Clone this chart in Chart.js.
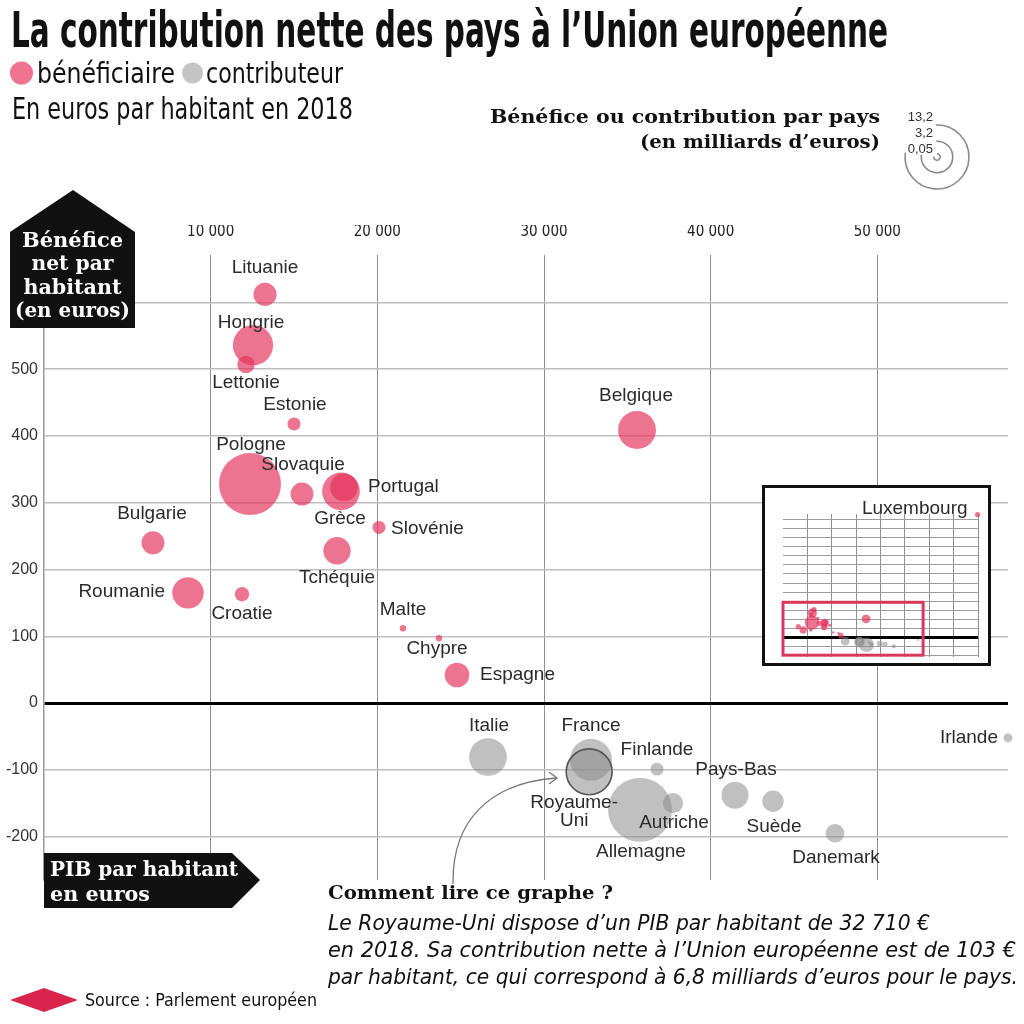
<!DOCTYPE html>
<html lang="fr">
<head>
<meta charset="utf-8">
<title>La contribution nette des pays à l’Union européenne</title>
<script src="https://cdn.jsdelivr.net/npm/chart.js@4.4.1/dist/chart.umd.min.js"></script>
<style>
  html, body { margin:0; padding:0; background:#fff; }
  #page { position:relative; width:1024px; height:1024px; overflow:hidden; background:#fff; }
  #main { position:absolute; left:0; top:0; }
  #insetBox { position:absolute; left:762px; top:485px; width:229px; height:181px; box-sizing:border-box; border:3px solid #111; background:#fff; }
  #inset { position:absolute; left:0; top:0; }
  #overlay { position:absolute; left:0; top:0; pointer-events:none; }
  .narrow { font-family:'Liberation Sans Narrow','DejaVu Sans Condensed','Roboto Condensed','Liberation Sans',sans-serif; }
  .serif { font-family:'DejaVu Serif','Liberation Serif',serif; }
</style>
</head>
<body>
<div id="page">
  <canvas id="main" width="1024" height="1024"></canvas>
  <div id="insetBox"><canvas id="inset" width="223" height="175"></canvas></div>
  <svg id="overlay" width="1024" height="1024" xmlns="http://www.w3.org/2000/svg">
    <!-- Title block -->
    <g class="narrow" fill="#111">
      <text x="11" y="47" font-size="50" font-weight="bold" textLength="877" lengthAdjust="spacingAndGlyphs">La contribution nette des pays à l’Union européenne</text>
      <circle cx="21.5" cy="73" r="11.5" fill="#ee7490"/>
      <text x="37" y="83" font-size="29" textLength="138" lengthAdjust="spacingAndGlyphs">bénéficiaire</text>
      <circle cx="192.5" cy="73" r="10.5" fill="#c4c4c4"/>
      <text x="206" y="83" font-size="29" textLength="137" lengthAdjust="spacingAndGlyphs">contributeur</text>
      <text x="12" y="119" font-size="30" textLength="341" lengthAdjust="spacingAndGlyphs">En euros par habitant en 2018</text>
    </g>
    <!-- Size legend title -->
    <g class="serif" fill="#111" font-weight="bold" text-anchor="end">
      <text x="880" y="123" font-size="19" textLength="390" lengthAdjust="spacingAndGlyphs">Bénéfice ou contribution par pays</text>
      <text x="880" y="148" font-size="19" textLength="240" lengthAdjust="spacingAndGlyphs">(en milliards d’euros)</text>
    </g>
    <g id="sizeLegend"></g>
    <!-- Y axis title box (house shape) -->
    <polygon points="10,328 10,232 73,190 135,232 135,328" fill="#111"/>
    <g class="serif" fill="#fff" font-weight="bold" text-anchor="middle" font-size="21">
      <text x="72.5" y="247" textLength="101" lengthAdjust="spacingAndGlyphs">Bénéfice</text>
      <text x="72.5" y="270" textLength="82" lengthAdjust="spacingAndGlyphs">net par</text>
      <text x="72.5" y="294" textLength="98" lengthAdjust="spacingAndGlyphs">habitant</text>
      <text x="72.5" y="317" textLength="115" lengthAdjust="spacingAndGlyphs">(en euros)</text>
    </g>
    <!-- X axis title box (arrow shape) -->
    <polygon points="44,853 232,853 260,880 232,908 44,908" fill="#111"/>
    <g class="serif" fill="#fff" font-weight="bold" font-size="21">
      <text x="50" y="876" textLength="188" lengthAdjust="spacingAndGlyphs">PIB par habitant</text>
      <text x="50" y="901" textLength="100" lengthAdjust="spacingAndGlyphs">en euros</text>
    </g>
    <!-- Reading guide -->
    <path d="M 453 884 C 452 820 490 783 556 778" fill="none" stroke="#777" stroke-width="1.3"/>
    <path d="M 549 772 L 557 778 L 549 784" fill="none" stroke="#777" stroke-width="1.3"/>
    <text class="serif" x="328" y="899" font-size="19" font-weight="bold" fill="#111" textLength="285" lengthAdjust="spacingAndGlyphs">Comment lire ce graphe ?</text>
    <g class="narrow" font-style="italic" font-size="22" fill="#111">
      <text x="328" y="930" textLength="602" lengthAdjust="spacingAndGlyphs">Le Royaume-Uni dispose d’un PIB par habitant de 32 710 €</text>
      <text x="328" y="957" textLength="688" lengthAdjust="spacingAndGlyphs">en 2018. Sa contribution nette à l’Union européenne est de 103 €</text>
      <text x="328" y="984" textLength="690" lengthAdjust="spacingAndGlyphs">par habitant, ce qui correspond à 6,8 milliards d’euros pour le pays.</text>
    </g>
    <!-- Source -->
    <polygon points="10,1000 44,988 78,1000 44,1012" fill="#d8244c"/>
    <text class="narrow" x="85" y="1006" font-size="17" fill="#111" textLength="232" lengthAdjust="spacingAndGlyphs">Source : Parlement européen</text>
  </svg>
</div>
<script>
// ---------------- DATA ----------------
const BENEF_NAMES = ['Lituanie','Hongrie','Lettonie','Estonie','Pologne','Slovaquie','Portugal','Grèce','Slovénie','Bulgarie','Roumanie','Croatie','Tchéquie','Malte','Chypre','Espagne','Belgique','Luxembourg'];
const BENEF_PIB   = [13260,12540,12120,15000,12360,15480,18000,17820,20100,6540,8640,11880,17580,21540,23700,24780,35580,83300];
const BENEF_NET   = [612,536,507,418,328,313,323,317,263,240,165,163,228,112,97,42,409,2707];
const BENEF_MDS   = [1.72,5.24,0.98,0.55,12.4,1.70,2.5,4.6,0.54,1.69,3.2,0.67,2.42,0.05,0.08,1.96,4.66,1.63];

const CONTRIB_NAMES = ['Italie','France','Royaume-Uni','Finlande','Allemagne','Autriche','Pays-Bas','Suède','Danemark','Irlande'];
const CONTRIB_PIB   = [26640,32820,32710,36780,35760,37740,41460,43740,47460,57840];
const CONTRIB_NET   = [-81,-85,-103,-99,-160,-150,-138,-147,-195,-52];
const CONTRIB_MDS   = [4.6,5.7,6.8,0.54,13.2,1.32,2.37,1.48,1.13,0.25];

const X_TICKS = [10000,20000,30000,40000,50000];
const Y_TICKS = [-200,-100,0,100,200,300,400,500,600];
const Y_TICK_LABELS_SHOWN = [-200,-100,0,100,200,300,400,500];
const SIZE_LEGEND = [13.2,3.2,0.05];
const SIZE_LEGEND_LABELS = ['13,2','3,2','0,05'];

// ---------------- STYLE / LAYOUT ----------------
const PINK = 'rgba(228,50,92,0.68)';
const GREY = 'rgba(140,140,140,0.55)';
const X_MIN = 0, X_MAX = 57840, Y_MIN = -265, Y_MAX = 671;
const INSET_X_MAX = 83500, INSET_Y_MIN = -430, INSET_Y_MAX = 2720;
const INSET_FRAME = {x0:0, x1:60000, y0:-390, y1:775};
const LABEL_FONT = '19px "Liberation Sans", Arial, sans-serif';
const rOf = v => Math.max(3.2, 8.8 * Math.sqrt(v));

const LABELS = {
  'Lituanie':{dx:0,dy:-27}, 'Hongrie':{dx:-2,dy:-22}, 'Lettonie':{dx:0,dy:18}, 'Estonie':{dx:1,dy:-19},
  'Pologne':{dx:1,dy:-39}, 'Slovaquie':{dx:1,dy:-29}, 'Portugal':{dx:24,dy:-1,align:'left'},
  'Grèce':{dx:-1,dy:27}, 'Slovénie':{dx:12,dy:1,align:'left'}, 'Bulgarie':{dx:-1,dy:-29},
  'Roumanie':{dx:-23,dy:-1,align:'right'}, 'Croatie':{dx:0,dy:20}, 'Tchéquie':{dx:0,dy:27},
  'Malte':{dx:0,dy:-18}, 'Chypre':{dx:-2,dy:10}, 'Espagne':{dx:23,dy:0,align:'left'},
  'Belgique':{dx:-1,dy:-34}, 'Italie':{dx:1,dy:-31}, 'France':{dx:0,dy:-34},
  'Royaume-Uni':{dx:-15,dy:31,lines:['Royaume-','Uni'],lh:18}, 'Finlande':{dx:0,dy:-19},
  'Allemagne':{dx:1,dy:42}, 'Autriche':{dx:1,dy:20}, 'Pays-Bas':{dx:1,dy:-25},
  'Suède':{dx:1,dy:26}, 'Danemark':{dx:1,dy:25}, 'Irlande':{dx:-10,dy:0,align:'right'}
};
const INSET_LABELS = { 'Luxembourg':{dx:-10,dy:-6,align:'right'} };

function buildPoints(names, pib, net, mds) {
  return names.map((n,i) => ({x:pib[i], y:net[i], r:rOf(mds[i]), name:n}));
}
const benefAll = buildPoints(BENEF_NAMES, BENEF_PIB, BENEF_NET, BENEF_MDS);
const contribAll = buildPoints(CONTRIB_NAMES, CONTRIB_PIB, CONTRIB_NET, CONTRIB_MDS);
const inMain = p => p.x <= X_MAX;

function labelPlugin(id, map) {
  return {
    id,
    afterDatasetsDraw(chart) {
      const ctx = chart.ctx;
      ctx.save();
      ctx.font = LABEL_FONT;
      ctx.fillStyle = '#2b2b2b';
      ctx.textBaseline = 'middle';
      chart.data.datasets.forEach((ds, di) => {
        const meta = chart.getDatasetMeta(di);
        meta.data.forEach((el, i) => {
          const name = ds.data[i].name;
          const p = map[name];
          if (!p) return;
          ctx.textAlign = p.align || 'center';
          const lines = p.lines || [name];
          lines.forEach((t, k) => ctx.fillText(t, el.x + p.dx, el.y + p.dy + k * (p.lh || 0)));
        });
      });
      ctx.restore();
    }
  };
}

const fmt = v => String(v).replace(/\B(?=(\d{3})+(?!\d))/g, ' ');

// ---------------- MAIN CHART ----------------
new Chart(document.getElementById('main'), {
  type: 'bubble',
  data: {
    datasets: [
      { label:'bénéficiaire', data: benefAll.filter(inMain), backgroundColor: PINK, borderWidth: 0, clip: false },
      { label:'contributeur', data: contribAll.filter(inMain), backgroundColor: GREY, clip: false,
        borderColor: c => (c.raw && c.raw.name === 'Royaume-Uni') ? '#555' : 'rgba(0,0,0,0)',
        borderWidth: c => (c.raw && c.raw.name === 'Royaume-Uni') ? 1.6 : 0 }
    ]
  },
  options: {
    responsive: false, animation: false, events: [],
    layout: { autoPadding: false, padding: { left: 0, right: 16, top: 225, bottom: 144 } },
    plugins: { legend: { display: false }, tooltip: { enabled: false } },
    scales: {
      x: {
        type: 'linear', position: 'top', min: X_MIN, max: X_MAX,
        afterFit: s => { s.height = 30; },
        afterBuildTicks: s => { s.ticks = X_TICKS.map(v => ({ value: v })); },
        ticks: { callback: v => fmt(v), color: '#222', padding: 14, maxRotation: 0,
                 font: { family: "'Liberation Sans Narrow','DejaVu Sans Condensed','Liberation Sans',sans-serif", size: 15 } },
        grid: { color: '#8f8f8f', lineWidth: 1, drawTicks: false },
        border: { display: false }
      },
      y: {
        type: 'linear', min: Y_MIN, max: Y_MAX,
        afterFit: s => { s.width = 44; },
        afterBuildTicks: s => { s.ticks = Y_TICKS.map(v => ({ value: v })); },
        ticks: { callback: v => Y_TICK_LABELS_SHOWN.includes(v) ? String(v) : '', color: '#333', padding: 6,
                 font: { family: "'Liberation Sans',Arial,sans-serif", size: 16 } },
        grid: { color: c => c.tick && c.tick.value === 0 ? '#000' : '#bdbdbd',
                lineWidth: c => c.tick && c.tick.value === 0 ? 3 : 1.5, drawTicks: false },
        border: { display: true, color: '#9a9a9a', width: 1.5 }
      }
    }
  },
  plugins: [labelPlugin('mainLabels', LABELS)]
});

// ---------------- INSET CHART ----------------
const insetFramePlugin = {
  id: 'insetFrame',
  afterDatasetsDraw(chart) {
    const { ctx, scales: { x, y } } = chart;
    const x0 = x.getPixelForValue(INSET_FRAME.x0), x1 = x.getPixelForValue(INSET_FRAME.x1);
    const y0 = y.getPixelForValue(INSET_FRAME.y1), y1 = y.getPixelForValue(INSET_FRAME.y0);
    ctx.save();
    ctx.strokeStyle = '#d9385e';
    ctx.lineWidth = 3;
    ctx.strokeRect(x0, y0, x1 - x0, y1 - y0);
    ctx.restore();
  }
};
const shrink = p => ({ x: p.x, y: p.y, r: Math.max(1.2, p.r * 0.23), name: p.name });
new Chart(document.getElementById('inset'), {
  type: 'bubble',
  data: {
    datasets: [
      { data: benefAll.map(shrink), backgroundColor: PINK, borderWidth: 0, clip: false },
      { data: contribAll.map(shrink), backgroundColor: GREY, borderWidth: 0, clip: false }
    ]
  },
  options: {
    responsive: false, animation: false, events: [],
    layout: { autoPadding: false, padding: { left: 18, right: 10, top: 26, bottom: 6 } },
    plugins: { legend: { display: false }, tooltip: { enabled: false } },
    scales: {
      x: { type: 'linear', min: 0, max: INSET_X_MAX, afterFit: s => { s.height = 0; },
           ticks: { display: false, stepSize: 10000, includeBounds: false },
           grid: { color: c => c.tick && c.tick.value === 0 ? 'rgba(0,0,0,0)' : '#8f8f8f', lineWidth: 1, drawTicks: false },
           border: { display: false } },
      y: { type: 'linear', min: INSET_Y_MIN, max: INSET_Y_MAX, afterFit: s => { s.width = 0; },
           ticks: { display: false, stepSize: 200, includeBounds: false },
           grid: { color: c => c.tick && c.tick.value === 0 ? '#000' : '#9d9d9d',
                   lineWidth: c => c.tick && c.tick.value === 0 ? 3 : 1, drawTicks: false },
           border: { display: false } }
    }
  },
  plugins: [insetFramePlugin, labelPlugin('insetLabels', INSET_LABELS)]
});

// ---------------- SIZE LEGEND (SVG) ----------------
(function () {
  const g = document.getElementById('sizeLegend');
  const NS = 'http://www.w3.org/2000/svg';
  const cx = 937, cy = 157;
  const LABEL_Y = [121, 137, 153];
  SIZE_LEGEND.forEach((v, i) => {
    const r = rOf(v);
    const a0 = (268) * Math.PI / 180, a1 = (548) * Math.PI / 180;
    const sx = cx + r * Math.cos(a0), sy = cy + r * Math.sin(a0);
    const ex = cx + r * Math.cos(a1), ey = cy + r * Math.sin(a1);
    const path = document.createElementNS(NS, 'path');
    path.setAttribute('d', `M ${sx} ${sy} A ${r} ${r} 0 1 1 ${ex} ${ey}`);
    path.setAttribute('fill', 'none');
    path.setAttribute('stroke', '#8a8a8a');
    path.setAttribute('stroke-width', '1.6');
    g.appendChild(path);
    const t = document.createElementNS(NS, 'text');
    t.setAttribute('x', 933);
    t.setAttribute('y', LABEL_Y[i]);
    t.setAttribute('text-anchor', 'end');
    t.setAttribute('font-size', '13');
    t.setAttribute('fill', '#333');
    t.setAttribute('font-family', "'Liberation Sans',Arial,sans-serif");
    t.textContent = SIZE_LEGEND_LABELS[i];
    g.appendChild(t);
  });
})();
</script>
</body>
</html>
